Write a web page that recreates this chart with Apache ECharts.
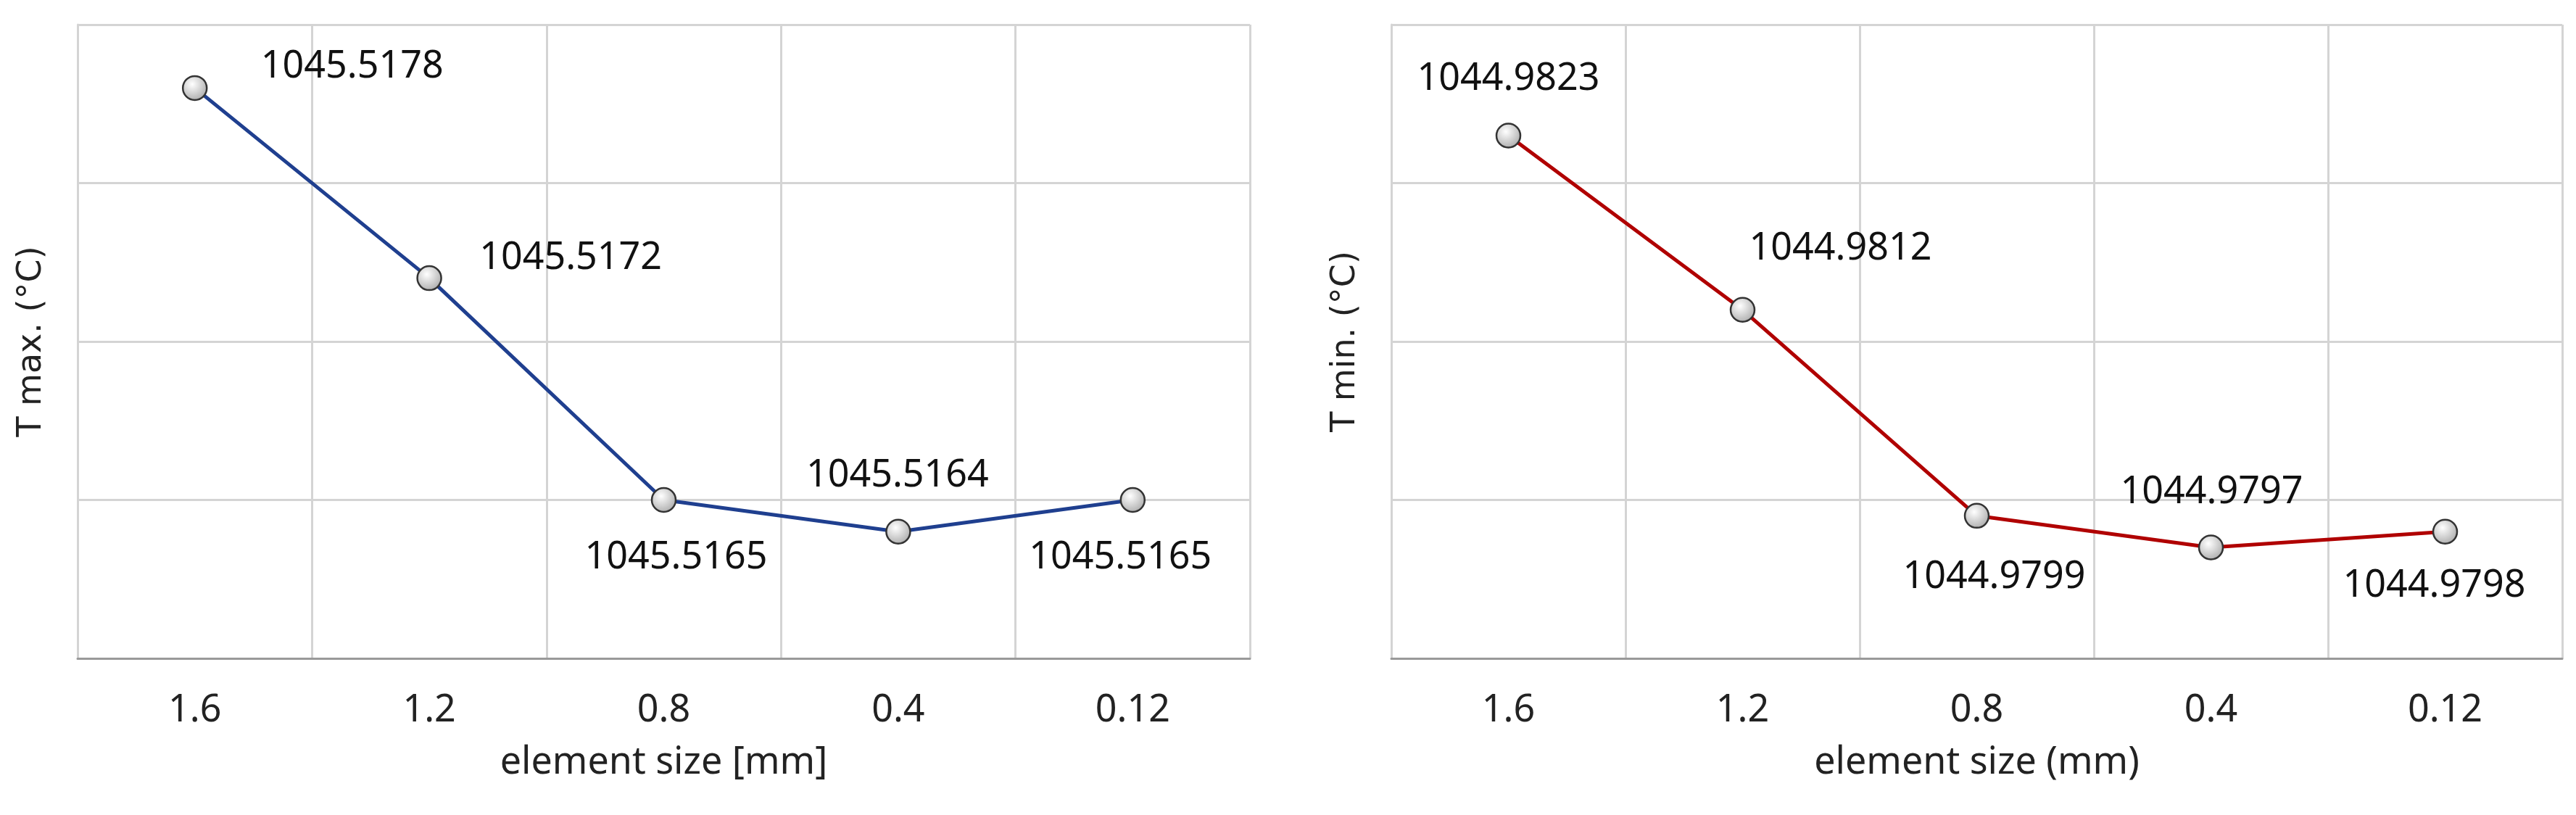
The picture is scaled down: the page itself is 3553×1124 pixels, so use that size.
<!DOCTYPE html>
<html><head><meta charset="utf-8">
<script src="https://cdn.jsdelivr.net/npm/echarts@6/dist/echarts.min.js"></script>
<style>html,body{margin:0;background:#fff}#c{width:3553px;height:1124px}</style>
</head><body><div id="c"></div>
<script>
const categories = ['1.6','1.2','0.8','0.4','0.12'];
const tMax = [1045.5178, 1045.5172, 1045.5165, 1045.5164, 1045.5165];
const tMin = [1044.9823, 1044.9812, 1044.9799, 1044.9797, 1044.9798];
const maxLabelOffsets = [[217,-29],[195,-27],[17,80],[-1,-77],[-17,80]];
const minLabelOffsets = [[0,-78],[135,-84],[24,85],[1,-76],[-15,75]];

const font = 'Noto Sans';
const grid1 = {left:107, right:1829, top:34, bottom:216};
const grid2 = {left:1919, right:19, top:34, bottom:216};
function xAx(i, name){
  return {type:'category', gridIndex:i, data:categories, boundaryGap:true,
    name:name, nameLocation:'middle', nameGap:118,
    nameTextStyle:{fontFamily:font, fontSize:52, color:'#222'},
    axisLine:{lineStyle:{color:'#999', width:3}}, axisTick:{show:false},
    axisLabel:{fontFamily:font, fontSize:52, color:'#222', margin:46},
    splitLine:{show:true, lineStyle:{color:'#d4d4d4', width:3}}};
}
function yAx(i, name, min, max, interval){
  return {type:'value', gridIndex:i, min:min, max:max, interval:interval,
    name:name, nameLocation:'middle', nameGap:40,
    nameTextStyle:{fontFamily:'DejaVu Sans', fontSize:46, color:'#222'},
    axisLabel:{show:false}, axisTick:{show:false},
    axisLine:{show:true, lineStyle:{color:'#d4d4d4', width:3}},
    splitLine:{show:true, lineStyle:{color:'#d4d4d4', width:3}}};
}
const markerStyle = {color:{type:'radial',x:0.4,y:0.35,r:0.7,colorStops:[{offset:0,color:'#ffffff'},{offset:1,color:'#a8a8a8'}]}, borderColor:'#333', borderWidth:2.5};
function ser(i, vals, offs, color){
  return {type:'line', xAxisIndex:i, yAxisIndex:i, symbol:'circle', symbolSize:33,
    lineStyle:{color:color, width:5}, itemStyle:markerStyle, z:3,
    data: vals.map((v,k)=>({value:v, label:{show:true, position:'inside', offset:offs[k],
      formatter:()=>v.toFixed(4), fontFamily:font, fontSize:52, color:'#111'}}))};
}
const chart = echarts.init(document.getElementById('c'));
chart.setOption({
  animation:false,
  grid:[grid1, grid2],
  xAxis:[xAx(0,'element size [mm]'), xAx(1,'element size (mm)')],
  yAxis:[yAx(0,'T max. (°C)',1045.516,1045.518,0.0005), yAx(1,'T min. (°C)',1044.979,1044.983,0.001)],
  series:[ser(0,tMax,maxLabelOffsets,'#1f3f8f'), ser(1,tMin,minLabelOffsets,'#b00000')]
});
</script></body></html>
